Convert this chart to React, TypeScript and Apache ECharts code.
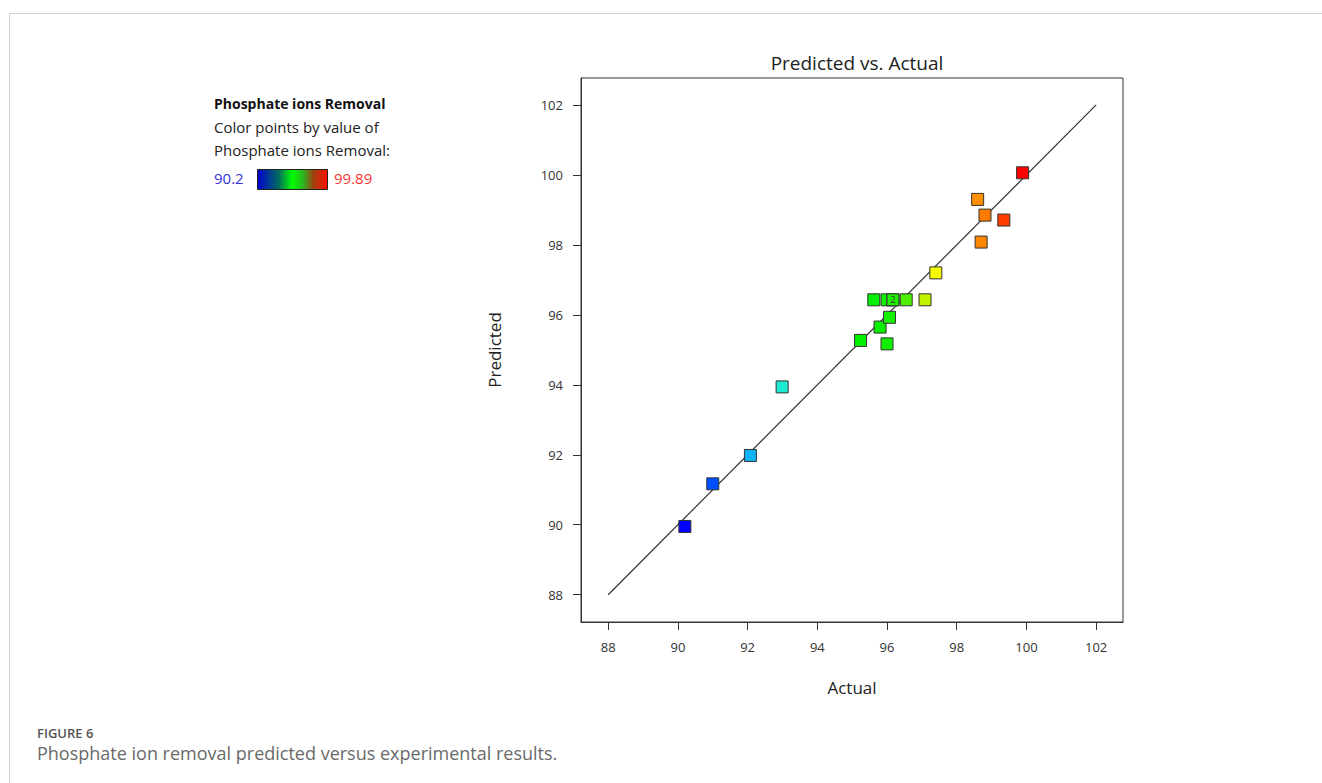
import React, { useEffect, useRef } from "react";
import * as echarts from "echarts";

const tickValues = [88, 90, 92, 94, 96, 98, 100, 102];
// [actual, predicted]
const actualValues = [
  90.2, 91.0, 92.08, 92.99, 95.24, 95.8, 96.0, 96.07, 95.62, 96.0, 96.17, 96.17,
  96.55, 97.09, 97.4, 98.6, 98.7, 98.81, 99.35, 99.89,
];
const predictedValues = [
  89.95, 91.17, 91.98, 93.94, 95.27, 95.65, 95.17, 95.93, 96.43, 96.43, 96.43, 96.43,
  96.43, 96.43, 97.2, 99.3, 98.08, 98.85, 98.71, 100.06,
];
const duplicateIndex = 11; // point drawn with "2" (two runs)
const lineEnds = [88, 102];
const colorMin = 90.2;
const colorMax = 99.89;

const FONT = "'Open Sans', 'Noto Sans', sans-serif";

export default function App() {
  const ref = useRef<HTMLDivElement>(null);
  useEffect(() => {
    if (!ref.current) return;
    const chart = echarts.init(ref.current, null, { renderer: "svg" });
    const scatterData = actualValues.map((a, i) => {
      const item: any = { value: [a, predictedValues[i]] };
      if (i === duplicateIndex) {
        item.label = {
          show: true,
          formatter: "2",
          position: "inside",
          fontSize: 9,
          color: "#333",
          fontFamily: FONT,
        };
      }
      return item;
    });
    chart.setOption({
      animation: false,
      backgroundColor: "#fff",
      textStyle: { fontFamily: FONT },
      title: {
        text: "Predicted vs. Actual",
        left: 852,
        top: 48,
        textAlign: "center",
        textStyle: { fontSize: 19, fontWeight: "normal", color: "#222", fontFamily: FONT },
      },
      grid: {
        left: 581,
        top: 78,
        width: 542,
        height: 544,
        show: true,
        borderColor: "#333",
        borderWidth: 1,
        backgroundColor: "transparent",
      },
      xAxis: {
        type: "value",
        min: 87.22,
        max: 102.77,
        name: "Actual",
        nameLocation: "middle",
        nameGap: 57,
        nameTextStyle: { fontSize: 17, color: "#222", fontFamily: FONT },
        axisLine: { show: true, lineStyle: { color: "#333", width: 1 } },
        axisTick: { show: true, length: 8, customValues: tickValues, lineStyle: { color: "#333" } },
        axisLabel: { customValues: tickValues, margin: 18, fontSize: 13, color: "#333", fontFamily: FONT },
        splitLine: { show: false },
      },
      yAxis: {
        type: "value",
        min: 87.22,
        max: 102.77,
        name: "Predicted",
        nameLocation: "middle",
        nameGap: 78,
        nameTextStyle: { fontSize: 17, color: "#222", fontFamily: FONT },
        axisLine: { show: true, lineStyle: { color: "#333", width: 1 } },
        axisTick: { show: true, length: 8, customValues: tickValues, lineStyle: { color: "#333" } },
        axisLabel: { customValues: tickValues, margin: 18, fontSize: 13, color: "#333", fontFamily: FONT },
        splitLine: { show: false },
      },
      visualMap: {
        show: false,
        type: "continuous",
        seriesIndex: 0,
        dimension: 0,
        min: colorMin,
        max: colorMax,
        inRange: {
          color: [
            "#0000ff", "#0030ff", "#0060ff", "#0090f8", "#10b8f0", "#18d8e0", "#20f0d0",
            "#10f0a0", "#08f070", "#00f040", "#00f000", "#00f000", "#10f000", "#40f000",
            "#b0f000", "#ffff00", "#ffd000", "#ffa000", "#ff7000", "#ff3800", "#ff0000",
          ],
        },
      },
      series: [
        {
          type: "scatter",
          symbol: "rect",
          symbolSize: 12,
          z: 3,
          itemStyle: { borderColor: "#333", borderWidth: 1, opacity: 1 },
          data: scatterData,
        },
        {
          type: "line",
          z: 2,
          symbol: "none",
          silent: true,
          lineStyle: { color: "#333", width: 1.2 },
          data: [
            [lineEnds[0], lineEnds[0]],
            [lineEnds[1], lineEnds[1]],
          ],
        },
      ],
      graphic: [
        { type: "line", shape: { x1: 9.5, y1: 13.5, x2: 1322, y2: 13.5 }, style: { stroke: "#cfcfcf", lineWidth: 1 } },
        { type: "line", shape: { x1: 9.5, y1: 13.5, x2: 9.5, y2: 783 }, style: { stroke: "#cfcfcf", lineWidth: 1 } },
        {
          type: "text",
          left: 214,
          top: 96,
          style: { text: "Phosphate ions Removal", font: `bold 14px ${FONT}`, fill: "#111" },
        },
        {
          type: "text",
          left: 214,
          top: 119,
          style: { text: "Color points by value of", font: `15px ${FONT}`, fill: "#222" },
        },
        {
          type: "text",
          left: 214,
          top: 142,
          style: { text: "Phosphate ions Removal:", font: `15px ${FONT}`, fill: "#222" },
        },
        {
          type: "text",
          left: 214,
          top: 170,
          style: { text: "90.2", font: `15px ${FONT}`, fill: "#3333dd" },
        },
        {
          type: "rect",
          shape: { x: 257.5, y: 169.5, width: 70, height: 20 },
          style: {
            stroke: "#222",
            lineWidth: 1,
            fill: new echarts.graphic.LinearGradient(0, 0, 1, 0, [
              { offset: 0, color: "#0000d0" },
              { offset: 0.3, color: "#006a60" },
              { offset: 0.5, color: "#00ff00" },
              { offset: 0.66, color: "#30b020" },
              { offset: 0.8, color: "#a04010" },
              { offset: 1, color: "#ff1000" },
            ]),
          },
        },
        {
          type: "text",
          left: 334,
          top: 170,
          style: { text: "99.89", font: `15px ${FONT}`, fill: "#ff3333" },
        },
        {
          type: "text",
          left: 37,
          top: 726,
          style: { text: "FIGURE 6", font: `600 13px ${FONT}`, fill: "#555" },
        },
        {
          type: "text",
          left: 37,
          top: 744,
          style: {
            text: "Phosphate ion removal predicted versus experimental results.",
            font: `18px ${FONT}`,
            fill: "#6a6a6a",
          },
        },
      ],
    });
    return () => chart.dispose();
  }, []);
  return (
    <div
      ref={ref}
      style={{ position: "fixed", left: 0, top: 0, width: 1322, height: 783, background: "#fff" }}
    />
  );
}
